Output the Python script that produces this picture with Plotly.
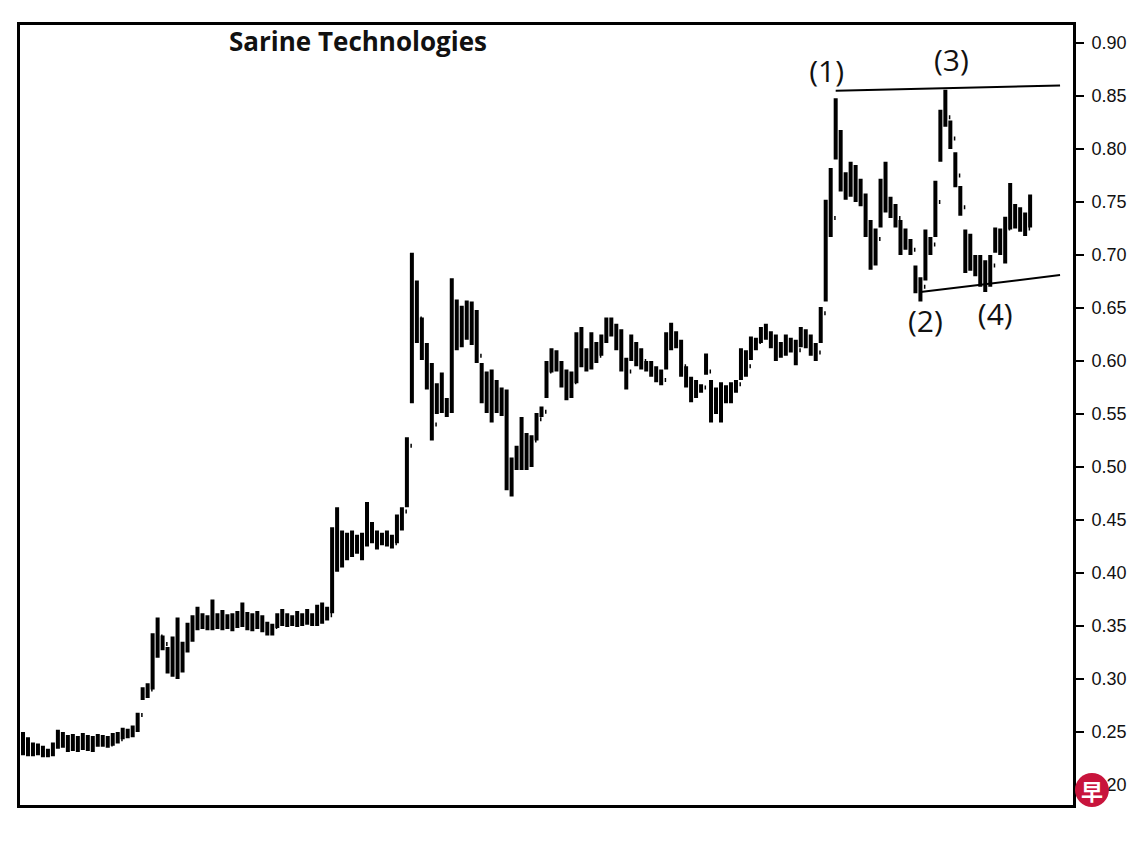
import plotly.graph_objects as go

# ---- data (bar index, price) ----
low = [.228,.227,.227,.228,.226,.226,.227,.234,.235,.231,.232,.231,.233,.232,.231,.236,.236,.235,.237,.239,
       .243,.244,.245,.250,.280,.282,.290,.320,.327,.305,.302,.300,.306,.325,.335,.346,.347,.346,.346,.347,
       .346,.347,.345,.348,.349,.346,.345,.347,.344,.341,.341,.348,.350,.349,.350,.349,.350,.351,.350,.350,
       .352,.355,.362,.401,.405,.412,.415,.418,.412,.425,.428,.422,.426,.425,.423,.428,.440,.462,.560,.617,
       .601,.573,.525,.550,.551,.547,.551,.610,.613,.620,.615,.598,.560,.551,.542,.551,.548,.478,.472,.497,
       .497,.497,.500,.525,.547,.565,.589,.590,.575,.563,.565,.579,.594,.590,.592,.598,.605,.617,.623,.610,
       .590,.573,.600,.595,.592,.590,.585,.580,.577,.592,.610,.612,.585,.575,.561,.565,.570,.587,.542,.550,
       .542,.560,.560,.570,.582,.585,.601,.610,.617,.620,.612,.600,.603,.605,.608,.596,.613,.612,.605,.600,
       .617,.656,.717,.790,.760,.752,.755,.750,.746,.717,.686,.690,.726,.740,.735,.726,.700,.705,.700,.664,
       .656,.676,.700,.717,.788,.821,.800,.764,.737,.683,.685,.680,.670,.665,.670,.702,.700,.692,.724,.725,
       .722,.718,.726]
high = [.250,.245,.240,.239,.237,.234,.240,.252,.250,.247,.248,.246,.249,.247,.246,.248,.247,.246,.249,.250,
        .254,.253,.256,.268,.292,.296,.343,.358,.341,.330,.340,.358,.335,.353,.360,.368,.362,.360,.375,.362,
        .365,.361,.362,.364,.372,.363,.362,.364,.360,.354,.352,.362,.366,.362,.360,.364,.362,.366,.362,.370,
        .372,.368,.443,.462,.440,.438,.440,.436,.438,.467,.448,.440,.438,.440,.436,.455,.462,.528,.702,.676,
        .641,.617,.598,.579,.589,.565,.678,.658,.652,.657,.656,.648,.598,.590,.592,.582,.575,.573,.509,.520,
        .547,.532,.530,.551,.557,.600,.612,.610,.600,.592,.590,.627,.632,.612,.627,.618,.625,.641,.641,.635,
        .630,.603,.625,.618,.612,.600,.600,.595,.592,.627,.636,.628,.620,.595,.585,.582,.578,.607,.582,.575,
        .580,.577,.580,.582,.612,.610,.623,.622,.632,.635,.628,.625,.618,.625,.622,.620,.632,.630,.625,.617,
        .651,.752,.782,.848,.818,.778,.788,.785,.772,.758,.733,.725,.772,.788,.755,.748,.733,.725,.715,.690,
        .679,.724,.717,.770,.837,.856,.827,.797,.765,.724,.720,.700,.700,.695,.700,.726,.725,.736,.768,.748,
        .745,.740,.757]
close = [.235,.232,.234,.231,.229,.230,.238,.243,.240,.236,.244,.235,.245,.238,.242,.240,.244,.238,.246,.243,
         .250,.247,.252,.266,.286,.290,.335,.340,.333,.312,.325,.330,.328,.345,.350,.355,.352,.355,.350,.356,
         .352,.356,.350,.358,.356,.352,.355,.350,.348,.345,.349,.356,.358,.354,.352,.360,.354,.358,.355,.360,
         .363,.360,.430,.420,.415,.430,.425,.428,.432,.440,.435,.432,.430,.434,.428,.450,.458,.520,.630,.640,
         .610,.580,.540,.565,.560,.555,.650,.630,.640,.635,.640,.605,.575,.570,.560,.570,.555,.495,.500,.505,
         .515,.510,.525,.545,.552,.590,.600,.598,.585,.570,.580,.615,.600,.595,.610,.605,.620,.630,.630,.620,
         .600,.590,.610,.605,.600,.595,.592,.588,.582,.620,.625,.618,.595,.580,.570,.572,.575,.590,.560,.565,
         .570,.565,.575,.578,.600,.595,.615,.618,.625,.625,.618,.605,.612,.610,.615,.610,.625,.618,.612,.608,
         .645,.745,.735,.810,.770,.765,.770,.760,.755,.725,.700,.715,.745,.750,.745,.735,.715,.712,.705,.670,
         .670,.715,.710,.750,.830,.830,.810,.775,.745,.700,.695,.690,.680,.675,.690,.715,.712,.725,.735,.735,
         .730,.725,.735]
opens = [close[0] - 0.004] + close[:-1]
bars = list(range(len(close)))

# trend lines (bar index, price)
top_line_x = [163, 208]
top_line_y = [0.855, 0.860]
bottom_line_x = [180, 208]
bottom_line_y = [0.665, 0.681]

# wave labels
wave_text = ["(1)", "(2)", "(3)", "(4)"]
wave_x = [161.2, 181, 186.2, 195]
wave_y = [0.870, 0.634, 0.881, 0.641]

title_text = "Sarine Technologies"
y_ticks = [0.20, 0.25, 0.30, 0.35, 0.40, 0.45, 0.50, 0.55, 0.60, 0.65, 0.70, 0.75, 0.80, 0.85, 0.90]

# page body has an 8px margin, so the figure is sized to fit the window
W, H = 1132, 833
ML, MR, MT, MB = 9, 67, 17, 36
PW, PH = W - ML - MR, H - MT - MB


def px_x(x):  # window pixel -> paper x
    return (x - 8 - ML) / PW


def px_y(y):  # window pixel -> paper y
    return 1 - (y - 8 - MT) / PH


fig = go.Figure()
fig.add_trace(go.Ohlc(
    x=bars, open=opens, high=high, low=low, close=close,
    increasing=dict(line=dict(color="black", width=4)),
    decreasing=dict(line=dict(color="black", width=4)),
    tickwidth=0.3, showlegend=False, hoverinfo="skip"))

for xs, ys in [(top_line_x, top_line_y), (bottom_line_x, bottom_line_y)]:
    fig.add_trace(go.Scatter(x=xs, y=ys, mode="lines",
                             line=dict(color="black", width=2),
                             showlegend=False, hoverinfo="skip"))

fig.add_trace(go.Scatter(x=wave_x, y=wave_y, mode="text", text=wave_text,
                         textfont=dict(family="Open Sans", size=30, color="#111"),
                         showlegend=False, hoverinfo="skip"))

fig.update_layout(
    width=W, height=H,
    margin=dict(l=ML, r=MR, t=MT, b=MB),
    paper_bgcolor="white", plot_bgcolor="white",
    xaxis=dict(range=[-0.6, 210.6], showgrid=False, zeroline=False,
               showticklabels=False, ticks="", showline=True, mirror=True,
               linecolor="black", linewidth=3, rangeslider=dict(visible=False)),
    yaxis=dict(range=[0.181, 0.917], side="right", showgrid=False, zeroline=False,
               tickvals=y_ticks, tickformat=".2f", ticks="outside", ticklen=8,
               tickwidth=1.5, tickcolor="black", ticklabelstandoff=4,
               tickfont=dict(family="Liberation Sans", size=18, color="#111"),
               showline=True, mirror=True, linecolor="black", linewidth=3),
    annotations=[
        dict(text=title_text, xref="paper", yref="paper", x=px_x(356), y=px_y(41),
             xanchor="center", yanchor="middle", showarrow=False,
             font=dict(family="Open Sans", size=26, color="#111", weight=700)),
        dict(text="早", xref="paper", yref="paper", x=px_x(1092), y=px_y(790),
             xanchor="center", yanchor="middle", showarrow=False,
             font=dict(family="Noto Sans CJK SC", size=22, color="white", weight=700)),
    ],
    shapes=[dict(type="circle", xref="paper", yref="paper",
                 x0=px_x(1075), x1=px_x(1109),
                 y0=px_y(807), y1=px_y(773),
                 fillcolor="#c8143c", line=dict(width=0), layer="above")],
)

fig.write_html("out.html")
